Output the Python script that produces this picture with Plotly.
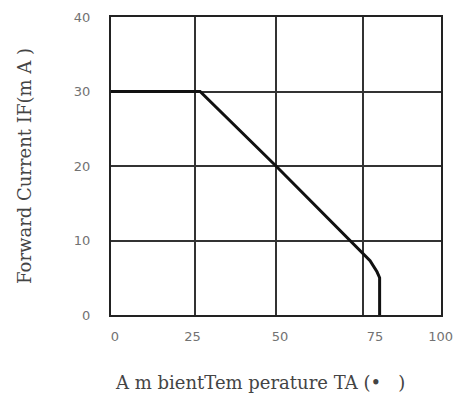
import plotly.graph_objects as go

# Derating curve
temp = [0, 27, 50, 78.5, 80.6, 81.4, 81.4]
current = [30, 30, 20, 7.3, 5.8, 5, 0]

# Grid positions (unevenly placed in the original) and tick label positions
x_grid = [25.6, 50, 76.5]
x_label_pos = [1.2, 24.7, 51.2, 80.0, 99.9]
x_label_text = ["0", "25", "50", "75", "100"]
y_ticks = [0, 10, 20, 30, 40]
x_title = "A m bientTem perature TA (•   )"
y_title = "Forward Current IF(m A )"

fig = go.Figure()
fig.add_trace(go.Scatter(x=temp, y=current, mode="lines",
                         line=dict(color="#111111", width=3),
                         showlegend=False, hoverinfo="skip"))
# invisible trace to activate label axis
fig.add_trace(go.Scatter(x=[0, 100], y=[0, 0], xaxis="x2", mode="lines",
                         line=dict(width=0), opacity=0, showlegend=False,
                         hoverinfo="skip"))

tick_font = dict(family="DejaVu Sans", size=13, color="#727272")
title_font = dict(family="DejaVu Serif", size=18, color="#444444")

fig.update_layout(
    width=462, height=397,
    margin=dict(l=111, r=21, t=17, b=82),
    paper_bgcolor="white", plot_bgcolor="white",
    xaxis=dict(range=[0, 100], tickvals=x_grid, showticklabels=False,
               showgrid=True, gridcolor="#333333", gridwidth=2,
               zeroline=False, showline=True, linecolor="#222222",
               linewidth=2, mirror=True, ticks="", automargin=False),
    xaxis2=dict(range=[0, 100], overlaying="x", side="bottom",
                tickvals=x_label_pos, ticktext=x_label_text,
                showgrid=False, zeroline=False, showline=False,
                tickfont=tick_font, ticks="outside", ticklen=9,
                tickcolor="rgba(0,0,0,0)", automargin=False),
    yaxis=dict(range=[0, 40], tickvals=y_ticks, showgrid=True,
               gridcolor="#333333", gridwidth=2, zeroline=False,
               showline=True, linecolor="#222222", linewidth=2, mirror=True,
               ticks="outside", ticklen=16, tickcolor="rgba(0,0,0,0)",
               tickfont=tick_font, automargin=False,
               title=dict(text=y_title, font=title_font, standoff=38)),
    annotations=[dict(text=x_title, xref="paper", yref="paper",
                      x=0.4515, y=-0.228, xanchor="center", yanchor="middle",
                      showarrow=False, font=title_font)],
)

fig.write_html("out.html")
